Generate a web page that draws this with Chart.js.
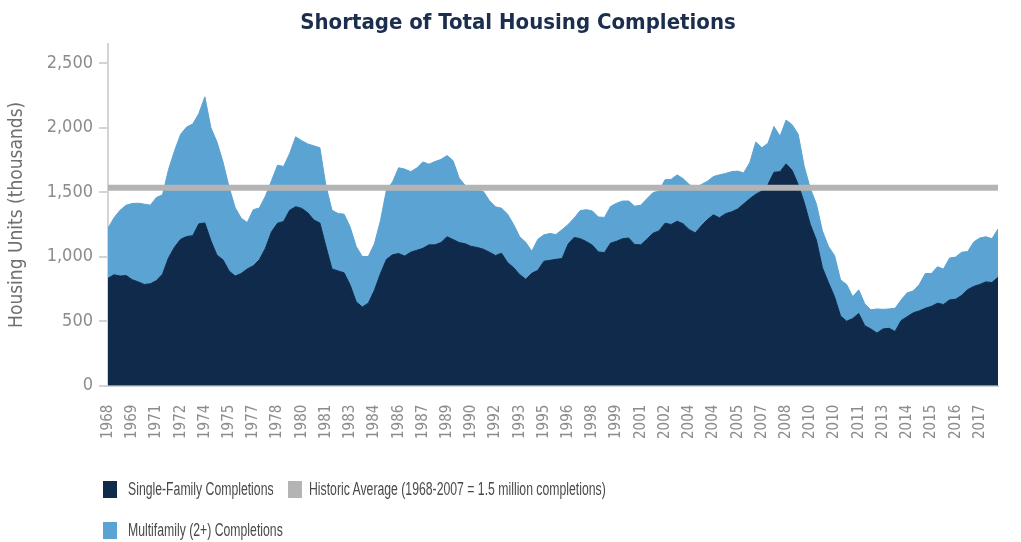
<!DOCTYPE html>
<html>
<head>
<meta charset="utf-8">
<script src="https://cdn.jsdelivr.net/npm/chart.js@4"></script>
<style>
  body { margin: 0; background: #fff; }
  #wrap { position: relative; width: 1021px; height: 542px; }
  #chartTitle {
    position: absolute; left: 0; top: 9px; width: 1036px; text-align: center;
    font-family: "DejaVu Sans Condensed", "Liberation Sans", sans-serif;
    font-weight: bold; font-size: 22px; color: #1c2e4e;
  }
  .legend-item {
    position: absolute; display: flex; align-items: center;
    font-family: "Liberation Sans", sans-serif;
    font-size: 18px; color: #4a4a4a; white-space: nowrap;
  }
  .legend-item span.txt { display: inline-block; transform: scaleX(0.68); transform-origin: left center; }
  .swatch { display: inline-block; width: 14px; height: 17px; margin-right: 11px; }
</style>
</head>
<body>
<div id="wrap">
  <canvas id="housingChart" width="1021" height="542"></canvas>
  <div id="chartTitle">Shortage of Total Housing Completions</div>
  <div class="legend-item" style="left:103px; top:479px;"><span class="swatch" style="background:#0f2a4b"></span><span class="txt">Single-Family Completions</span></div>
  <div class="legend-item" style="left:288px; top:479px;"><span class="swatch" style="background:#b4b4b4; margin-right:7px"></span><span class="txt">Historic Average (1968-2007 = 1.5 million completions)</span></div>
  <div class="legend-item" style="left:103px; top:520px;"><span class="swatch" style="background:#5ba3d2"></span><span class="txt">Multifamily (2+) Completions</span></div>
</div>
<script>
// tick labels as printed under the axis (one every 4 data points)
var tickLabels = ['1968', '1969', '1971', '1972', '1974', '1975', '1977', '1978', '1980', '1981',
    '1983', '1984', '1986', '1987', '1989', '1990', '1992', '1993', '1995', '1996',
    '1998', '1999', '2001', '2002', '2004', '2004', '2005', '2007', '2008', '2010',
    '2010', '2011', '2013', '2014', '2015', '2016', '2017'];

var yTicks = [0, 500, 1000, 1500, 2000, 2500];

// thousands of units
var singleFamily = [833, 860, 850, 854, 822, 805, 785, 790, 815, 865, 992, 1075,
    1135, 1157, 1163, 1255, 1262, 1124, 1012, 976, 890, 850, 870, 905,
    930, 977, 1066, 1193, 1260, 1273, 1360, 1388, 1375, 1341, 1285, 1262,
    1080, 905, 890, 875, 780, 650, 610, 640, 740, 870, 980, 1015,
    1025, 1005, 1035, 1050, 1065, 1092, 1092, 1110, 1155, 1133, 1110, 1100,
    1080, 1072, 1058, 1035, 1009, 1027, 955, 915, 862, 825, 872, 895,
    965, 972, 980, 986, 1098, 1150, 1140, 1118, 1090, 1037, 1032, 1105,
    1120, 1140, 1145, 1095, 1092, 1135, 1182, 1200, 1260, 1250, 1275, 1255,
    1210, 1185, 1240, 1288, 1325, 1302, 1334, 1348, 1370, 1410, 1450, 1485,
    1510, 1560, 1655, 1660, 1720, 1670, 1560, 1420, 1250, 1130, 915, 800,
    690, 540, 500, 520, 560, 465, 440, 408, 440, 445, 420, 505,
    535, 565, 580, 600, 615, 639, 630, 665, 670, 700, 745, 770,
    785, 805, 800, 840];

var multifamily = [388, 443, 511, 546, 591, 610, 623, 610, 645, 615, 685, 748,
    815, 850, 867, 855, 978, 876, 878, 758, 650, 532, 429, 360,
    435, 401, 404, 397, 450, 427, 440, 542, 525, 534, 575, 583,
    470, 455, 445, 455, 450, 430, 392, 362, 360, 410, 540, 565,
    665, 675, 625, 638, 670, 626, 646, 645, 630, 612, 500, 453,
    455, 448, 448, 400, 378, 350, 375, 335, 293, 287, 170, 240,
    205, 208, 192, 224, 152, 150, 218, 247, 265, 271, 273, 285,
    295, 292, 287, 297, 308, 315, 315, 310, 337, 350, 360, 350,
    350, 348, 320, 297, 297, 333, 312, 312, 294, 240, 280, 405,
    335, 320, 355, 275, 340, 354, 390, 280, 280, 280, 285, 280,
    320, 280, 285, 170, 183, 170, 148, 187, 152, 150, 180, 160,
    185, 170, 205, 270, 255, 283, 275, 325, 327, 335, 295, 345,
    360, 350, 340, 375];

var historicAverage = 1535;

var axisFont = '"DejaVu Sans Condensed", "Liberation Sans", sans-serif';

var labels = singleFamily.map(function (v, i) {
    return i % 4 === 0 ? tickLabels[i / 4] : '';
});

var ctx = document.getElementById('housingChart').getContext('2d');
var housingChart = new Chart(ctx, {
    type: 'line',
    data: {
        labels: labels,
        datasets: [{
            label: 'Single-Family Completions',
            data: singleFamily,
            backgroundColor: '#0f2a4b',
            borderColor: '#0f2a4b',
            borderWidth: 1,
            fill: 'origin',
            stack: 'units',
            order: 1
        }, {
            label: 'Multifamily (2+) Completions',
            data: multifamily,
            backgroundColor: '#5ba3d2',
            borderColor: '#5ba3d2',
            borderWidth: 1,
            fill: '-1',
            stack: 'units',
            order: 2
        }, {
            label: 'Historic Average (1968-2007 = 1.5 million completions)',
            data: singleFamily.map(function () { return historicAverage; }),
            borderColor: '#b4b4b4',
            borderWidth: 6,
            fill: false,
            stack: 'avg',
            order: 0
        }]
    },
    options: {
        responsive: false,
        animation: false,
        devicePixelRatio: 1,
        elements: {
            point: { radius: 0 },
            line: { tension: 0 }
        },
        layout: {
            padding: { left: 2, right: 23, bottom: 92, top: 44 }
        },
        plugins: {
            legend: { display: false },
            tooltip: { enabled: false },
            title: { display: false }
        },
        scales: {
            x: {
                afterFit: function (axis) { axis.paddingRight = 0; },
                grid: { display: false },
                border: { color: '#d4d4d4', width: 2 },
                ticks: {
                    autoSkip: false,
                    maxRotation: 90,
                    minRotation: 90,
                    padding: 11,
                    color: '#8c8c8c',
                    font: { family: axisFont, size: 15 }
                }
            },
            y: {
                stacked: true,
                min: 0,
                max: 2650,
                afterBuildTicks: function (axis) {
                    axis.ticks = yTicks.map(function (v) { return { value: v }; });
                },
                afterFit: function (axis) { axis.width = 106; },
                grid: { drawOnChartArea: false, tickLength: 9, color: '#d4d4d4', lineWidth: 2 },
                border: { color: '#d4d4d4', width: 2 },
                ticks: {
                    padding: 6,
                    color: '#8c8c8c',
                    font: { family: axisFont, size: 18 },
                    callback: function (v) { return v.toLocaleString('en-US'); }
                },
                title: {
                    display: true,
                    text: 'Housing Units (thousands)',
                    color: '#707070',
                    font: { family: axisFont, size: 19 }
                }
            }
        }
    }
});
</script>
</body>
</html>
